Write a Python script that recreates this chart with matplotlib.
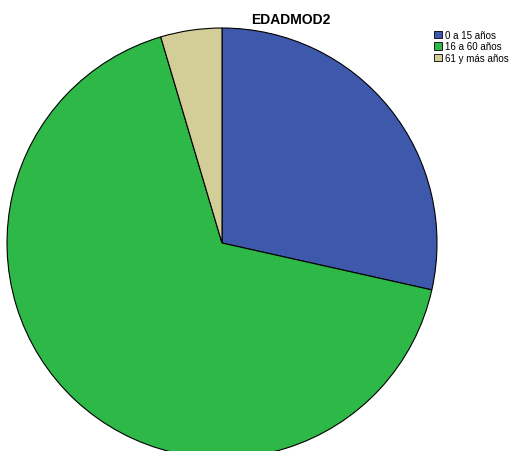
import matplotlib.pyplot as plt
from matplotlib.patches import Patch

labels = ["0 a 15 años", "16 a 60 años", "61 y más años"]
values = [28.5, 66.9, 4.6]
colors = ["#3E58AC", "#2EB848", "#D3CE97"]

plt.rcParams['font.family'] = ['Liberation Sans', 'DejaVu Sans']

fig = plt.figure(figsize=(5.19, 4.52), dpi=100)
# pie centre (222, 244) px, radius 215 px
ax = fig.add_axes([7 / 519, (452 - 244 - 215) / 452, 430 / 519, 430 / 452])
wedges, _ = ax.pie(values, colors=colors, startangle=90, counterclock=False,
                   wedgeprops=dict(edgecolor='black', linewidth=0.8))
ax.set_xlim(-1, 1)
ax.set_ylim(-1, 1)
ax.set_aspect('equal')
ax.axis('off')
for w in wedges:
    w.set_clip_on(False)

fig.text(291 / 519, 1 - 20 / 452, "EDADMOD2", ha='center', va='center',
         fontsize=10, fontweight='bold')

handles = [Patch(facecolor=c, edgecolor='black', linewidth=0.6) for c in colors]
fig.legend(handles, labels, loc='upper left', bbox_to_anchor=(434 / 519, 1 - 31 / 452),
           frameon=False, fontsize=7, handlelength=0.8, handleheight=0.8,
           handletextpad=0.3, labelspacing=0.15, borderpad=0, borderaxespad=0)

fig.savefig("out.png", dpi=100)
